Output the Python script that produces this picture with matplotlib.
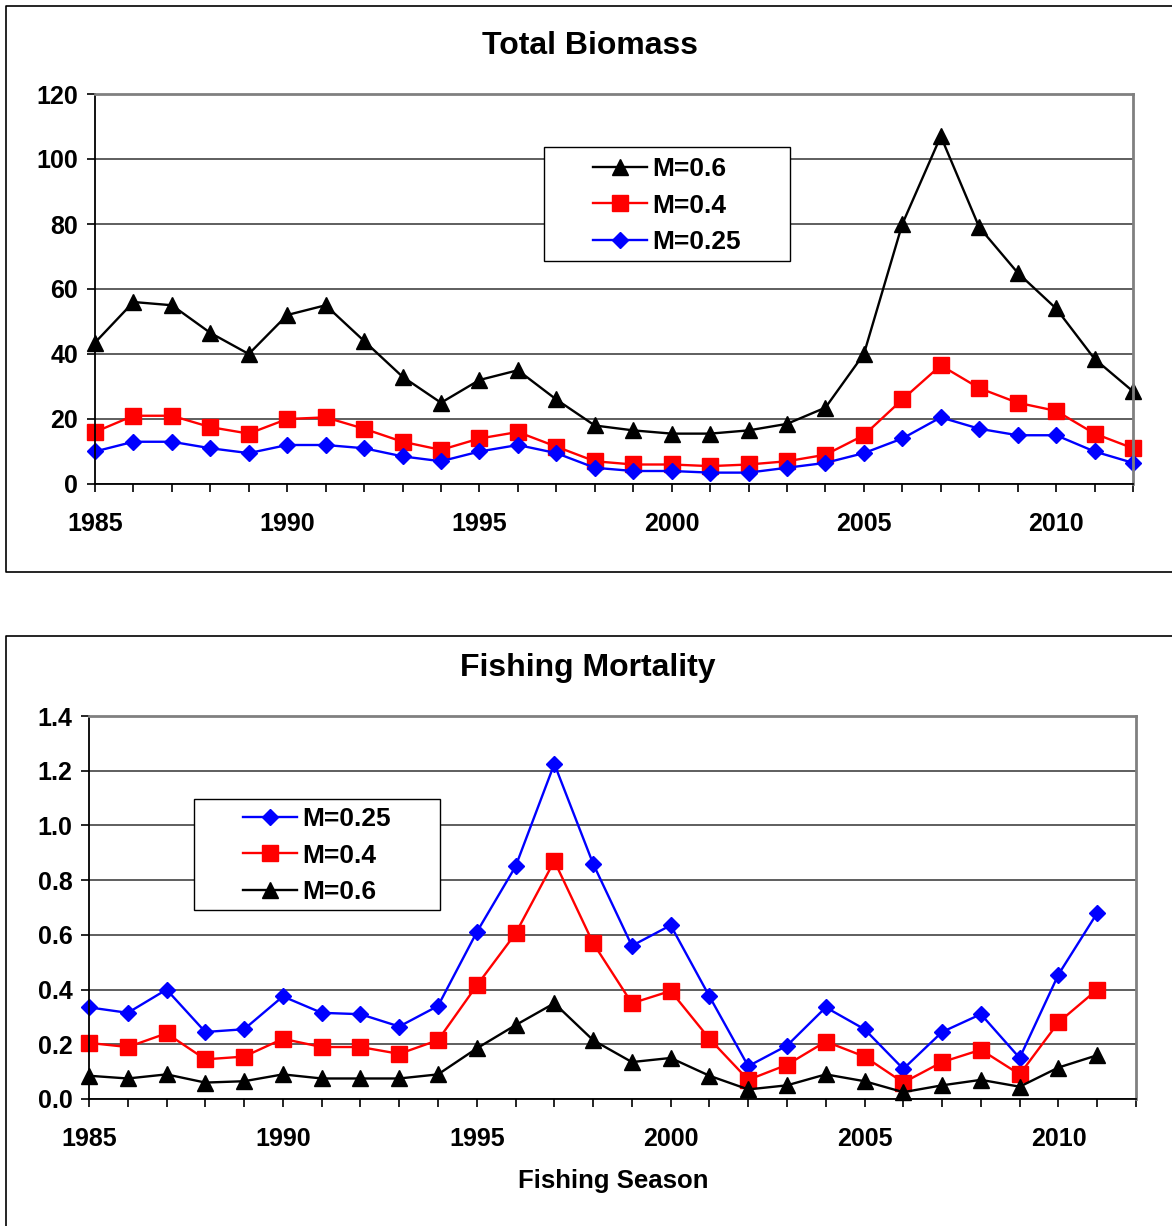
import matplotlib
matplotlib.use("Agg")
import matplotlib.pyplot as plt
from matplotlib.lines import Line2D
from matplotlib.patches import Rectangle

plt.rcParams['font.family'] = ['Liberation Sans', 'DejaVu Sans']
plt.rcParams['font.weight'] = 'bold'

# biomass, 1985-2012
years_b = list(range(1985, 2013))
bio_m06 = [43.5, 56, 55, 46.5, 40, 52, 55, 44, 33, 25, 32, 35, 26, 18,
           16.5, 15.5, 15.5, 16.5, 18.5, 23.5, 40, 80, 107, 79, 65, 54, 38.5, 28.5]
bio_m04 = [16, 21, 21, 17.5, 15.5, 20, 20.5, 17, 13, 10.5, 14, 16, 11.5, 7,
           6, 6, 5.5, 6, 7, 9, 15, 26, 36.5, 29.5, 25, 22.5, 15.5, 11]
bio_m025 = [10, 13, 13, 11, 9.5, 12, 12, 11, 8.5, 7, 10, 12, 9.5, 5,
            4, 4, 3.5, 3.5, 5, 6.5, 9.5, 14, 20.5, 17, 15, 15, 10, 6.5]

# fishing mortality, 1985-2011
years_f = list(range(1985, 2012))
f_m025 = [0.335, 0.315, 0.40, 0.245, 0.255, 0.375, 0.315, 0.31, 0.265, 0.34,
          0.61, 0.85, 1.225, 0.86, 0.56, 0.635, 0.375, 0.12, 0.195, 0.335,
          0.255, 0.11, 0.245, 0.31, 0.15, 0.455, 0.68]
f_m04 = [0.205, 0.19, 0.24, 0.145, 0.155, 0.22, 0.19, 0.19, 0.165, 0.215,
         0.415, 0.605, 0.87, 0.57, 0.35, 0.395, 0.22, 0.07, 0.125, 0.21,
         0.155, 0.06, 0.135, 0.18, 0.09, 0.28, 0.40]
f_m06 = [0.085, 0.075, 0.09, 0.06, 0.065, 0.09, 0.075, 0.075, 0.075, 0.09,
         0.185, 0.27, 0.35, 0.215, 0.135, 0.15, 0.085, 0.035, 0.05, 0.09,
         0.065, 0.025, 0.05, 0.07, 0.045, 0.115, 0.16]

W, H = 1172, 1226
fig = plt.figure(figsize=(W / 100, H / 100), dpi=100)


def px_axes(l, t, r, b):
    return fig.add_axes([l / W, 1 - b / H, (r - l) / W, (b - t) / H])


def fig_line(xs, ys):
    fig.add_artist(Line2D([x / W for x in xs], [1 - y / H for y in ys],
                          color='black', lw=1.2))


def legend_box(ax, l, t, r, b, first_row):
    # white box drawn by hand, legend entries placed inside it
    fig.add_artist(Rectangle((l / W, 1 - b / H), (r - l) / W, (b - t) / H,
                             transform=fig.transFigure, facecolor='white',
                             edgecolor='black', lw=1, zorder=4))
    handles, labels = ax.get_legend_handles_labels()
    leg = fig.legend(handles, labels, loc='upper left',
                     bbox_to_anchor=((l + 49) / W, 1 - (first_row - 13) / H),
                     bbox_transform=fig.transFigure, fontsize=19, frameon=False,
                     handlelength=2.05, handletextpad=0.2, labelspacing=0.48,
                     borderpad=0, borderaxespad=0)
    leg.set_zorder(5)
    return leg


# panel frames
fig_line([W + 5, 5.5, 5.5, W + 5], [5.5, 5.5, 572, 572])
fig_line([W + 5, 5.5, 5.5], [636.5, 636.5, H + 5])

style = dict(lw=1.7, clip_on=False)
tick_fs = 18


def setup(ax, ymax, ystep, yfmt):
    ax.set_xlim(1985, 2012)
    ax.set_ylim(0, ymax)
    n = int(round(ymax / ystep))
    ax.set_yticks([i * ystep for i in range(n + 1)])
    ax.set_yticklabels([yfmt.format(i * ystep) for i in range(n + 1)])
    ax.set_xticks([1985, 1990, 1995, 2000, 2005, 2010])
    ax.set_xticks(range(1985, 2013), minor=True)
    ax.tick_params(axis='x', which='both', direction='out', length=6,
                   width=1.2, pad=14, labelsize=tick_fs)
    ax.tick_params(axis='y', direction='out', length=6, width=1.2,
                   pad=6, labelsize=tick_fs)
    ax.grid(axis='y', color='#333333', lw=1.1)
    ax.set_axisbelow(True)
    for s in ['top', 'right']:
        ax.spines[s].set_color('#808080')
        ax.spines[s].set_linewidth(2)
    for s in ['left', 'bottom']:
        ax.spines[s].set_color('black')
        ax.spines[s].set_linewidth(1.3)


# top chart
ax1 = px_axes(95, 94, 1133, 484)
setup(ax1, 120, 20, '{:.0f}')
ax1.plot(years_b, bio_m06, color='black', marker='^', ms=11, label='M=0.6', **style)
ax1.plot(years_b, bio_m04, color='#ff0000', marker='s', ms=11, label='M=0.4', **style)
ax1.plot(years_b, bio_m025, color='#0000ff', marker='D', ms=8, label='M=0.25', **style)
fig.text(590 / W, 1 - 46 / H, 'Total Biomass', ha='center', va='center',
         fontsize=23, fontweight='bold')
legend_box(ax1, 544, 147, 790, 261, 170)

# bottom chart
ax2 = px_axes(89, 716, 1136, 1099)
setup(ax2, 1.4, 0.2, '{:.1f}')
ax2.plot(years_f, f_m025, color='#0000ff', marker='D', ms=8, label='M=0.25', **style)
ax2.plot(years_f, f_m04, color='#ff0000', marker='s', ms=11, label='M=0.4', **style)
ax2.plot(years_f, f_m06, color='black', marker='^', ms=11, label='M=0.6', **style)
fig.text(588 / W, 1 - 668 / H, 'Fishing Mortality', ha='center', va='center',
         fontsize=23, fontweight='bold')
fig.text(613 / W, 1 - 1181 / H, 'Fishing Season', ha='center', va='center',
         fontsize=18.5, fontweight='bold')
legend_box(ax2, 194, 799, 440, 910, 820)

fig.savefig('out.png', dpi=100)
